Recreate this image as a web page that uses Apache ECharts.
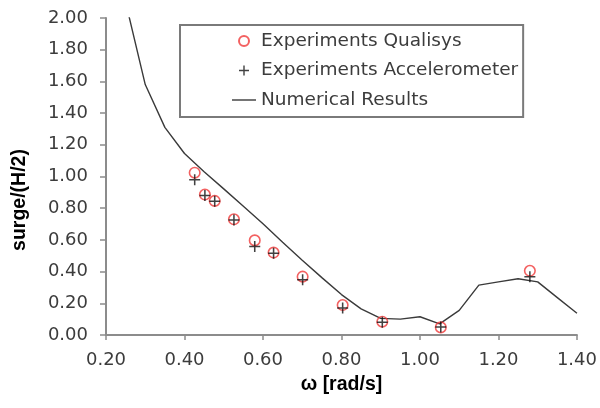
<!DOCTYPE html>
<html>
<head>
<meta charset="utf-8">
<script src="https://cdn.jsdelivr.net/npm/echarts@6/dist/echarts.min.js"></script>
<style>
  html, body { margin: 0; padding: 0; background: #fff; }
  #chart { width: 600px; height: 408px; }
</style>
</head>
<body>
<div id="chart"></div>
<script>
// Wave frequency (rad/s) of each measured run
const expOmega = [0.426, 0.452, 0.477, 0.526, 0.579, 0.627, 0.701, 0.803, 0.904, 1.053, 1.28];
// Normalised surge amplitude, optical tracking
const qualisysSurge = [1.024, 0.886, 0.846, 0.730, 0.597, 0.520, 0.368, 0.189, 0.084, 0.048, 0.405];
// Normalised surge amplitude, accelerometer
const accelSurge = [0.980, 0.880, 0.844, 0.726, 0.558, 0.516, 0.348, 0.170, 0.080, 0.050, 0.368];

// Numerical model curve
const numOmega = [0.25, 0.30, 0.35, 0.40, 0.45, 0.50, 0.55, 0.60, 0.65, 0.70, 0.75, 0.80,
                  0.85, 0.90, 0.95, 1.00, 1.05, 1.10, 1.15, 1.20, 1.25, 1.30, 1.35, 1.40];
const numSurge = [2.10, 1.58, 1.31, 1.145, 1.03, 0.922, 0.812, 0.702, 0.585, 0.472, 0.362, 0.255,
                  0.165, 0.105, 0.100, 0.115, 0.070, 0.155, 0.315, 0.335, 0.355, 0.335, 0.236, 0.137];

// Axis ranges and labels
const xMin = 0.2, xMax = 1.4, xStep = 0.2;
const yMin = 0, yMax = 2, yStep = 0.2;
const xTitle = 'ω [rad/s]';
const yTitle = 'surge/(H/2)';
const seriesNames = ['Experiments Qualisys', 'Experiments Accelerometer', 'Numerical Results'];

const pair = (xs, ys) => xs.map((x, i) => [x, ys[i]]);

const TICK_FONT = '"DejaVu Sans", sans-serif';
const TITLE_FONT = '"Liberation Sans", Arial, sans-serif';
const axisGrey = '#8c8c8c';
const textGrey = '#3c3c3c';
const curveColor = '#3a3a3a';
const plusPath = 'path://M4.3,0h1.4v4.3h4.3v1.4h-4.3v4.3h-1.4v-4.3h-4.3v-1.4h4.3z';
const dashIcon = 'path://M0,0h24v1.4h-24z';

const chart = echarts.init(document.getElementById('chart'), null, { renderer: 'canvas' });

chart.setOption({
  animation: false,
  backgroundColor: '#fff',
  grid: { left: 106, right: 22, top: 18, bottom: 73 },
  xAxis: {
    type: 'value',
    min: xMin, max: xMax, interval: xStep,
    name: xTitle,
    nameLocation: 'middle',
    nameGap: 40,
    nameTextStyle: { fontFamily: TITLE_FONT, fontSize: 19.5, fontWeight: 'bold', color: '#000' },
    axisLine: { show: true, onZero: false, lineStyle: { color: axisGrey, width: 2 } },
    axisTick: { show: true, length: 5, lineStyle: { color: axisGrey, width: 1.5 } },
    splitLine: { show: false },
    axisLabel: {
      margin: 16, fontFamily: TICK_FONT, fontSize: 18, color: textGrey,
      formatter: v => v.toFixed(2)
    }
  },
  yAxis: {
    type: 'value',
    min: yMin, max: yMax, interval: yStep,
    axisLine: { show: true, onZero: false, lineStyle: { color: axisGrey, width: 2 } },
    axisTick: { show: true, length: 6, lineStyle: { color: axisGrey, width: 1.5 } },
    splitLine: { show: false },
    axisLabel: {
      margin: 18, fontFamily: TICK_FONT, fontSize: 18, color: textGrey,
      formatter: v => v.toFixed(2)
    }
  },
  legend: {
    orient: 'vertical',
    left: 180, top: 25,
    padding: [6, 5, 7, 52],
    itemWidth: 24, itemHeight: 10,
    itemGap: 9.5,
    backgroundColor: '#fff',
    borderColor: '#7a7a7a', borderWidth: 2,
    textStyle: { fontFamily: TICK_FONT, fontSize: 18.5, color: textGrey, lineHeight: 20 },
    data: [
      { name: seriesNames[0] },
      { name: seriesNames[1] },
      { name: seriesNames[2], icon: dashIcon, itemStyle: { color: curveColor } }
    ]
  },
  graphic: [{
    type: 'text',
    x: 20, y: 200,
    rotation: Math.PI / 2,
    style: {
      text: yTitle, align: 'center', verticalAlign: 'middle',
      font: 'bold 19.5px ' + TITLE_FONT, fill: '#000'
    }
  }],
  series: [
    {
      name: seriesNames[2],
      type: 'line',
      data: pair(numOmega, numSurge),
      symbol: 'none',
      clip: true,
      z: 2,
      lineStyle: { color: curveColor, width: 1.4 },
      itemStyle: { color: curveColor }
    },
    {
      name: seriesNames[0],
      type: 'scatter',
      data: pair(expOmega, qualisysSurge),
      symbol: 'circle',
      symbolSize: 10.5,
      z: 3,
      itemStyle: { color: 'rgba(255,255,255,0)', borderColor: '#f03a3a', borderWidth: 1.6 }
    },
    {
      name: seriesNames[1],
      type: 'scatter',
      data: pair(expOmega, accelSurge),
      symbol: plusPath,
      symbolSize: 11,
      z: 4,
      itemStyle: { color: '#111' }
    }
  ]
});
</script>
</body>
</html>
